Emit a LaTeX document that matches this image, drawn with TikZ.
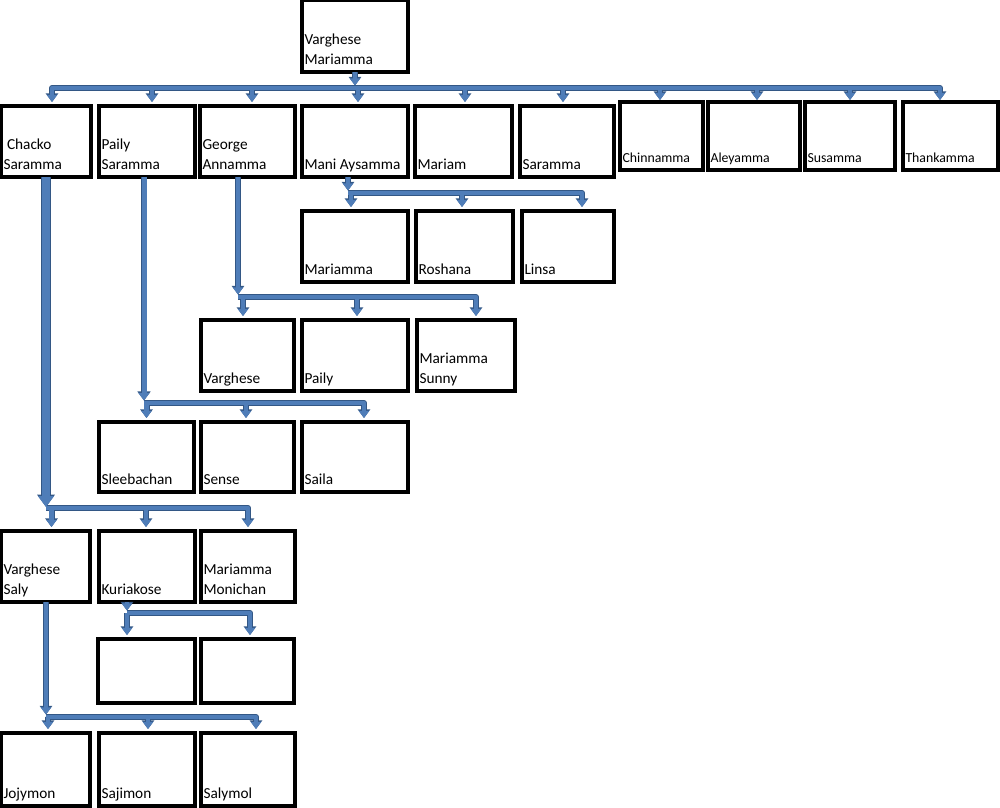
\documentclass[tikz,border=0pt]{standalone}
\usepackage{fontspec}
\setmainfont{Carlito}
\usetikzlibrary{arrows.meta}
\definecolor{LinkClr}{rgb}{0.31,0.49,0.72}
\definecolor{LinkDark}{rgb}{0.2,0.34,0.52}

\newcommand\familylinks{%
\draw[trunk] (root.south -| j0) -- (j0);
\draw[link] (j0) -| ([xshift=6pt]chacko.north);
\draw[link] (j0) -| ([xshift=5pt]paily.north);
\draw[link] (j0) -| ([xshift=4.5pt]george.north);
\draw[link] (j0) -| ([xshift=3pt]mani.north);
\draw[link] (j0) -| ([xshift=1.5pt]mariam.north);
\draw[link] (j0) -| ([xshift=-4pt]saramma.north);
\draw[link,shorten >=2pt] (j0) -| ([xshift=-1.5pt]chinnamma.north);
\draw[link,shorten >=2pt] (j0) -| ([xshift=3pt]aleyamma.north);
\draw[link,shorten >=2pt] (j0) -| (susamma.north);
\draw[link,shorten >=2pt] (j0) -| ([xshift=-10.5pt]thankamma.north);
\draw[trunk] (mani.south -| j1) -- (j1);
\draw[link] (j1) -| ([xshift=-4pt]mariamma.north);
\draw[link] (j1) -| ([xshift=-2.5pt]roshana.north);
\draw[link] (j1) -| ([xshift=14pt]linsa.north);
\draw[trunk] (george.south -| j2) -- (j2);
\draw[link] (j2) -| ([xshift=-4.5pt]varghese.north);
\draw[link] (j2) -| ([xshift=2pt]pailyjr.north);
\draw[link] (j2) -| ([xshift=10pt]sunny.north);
\draw[trunk=5pt] (paily.south -| j3) -- (j3);
\draw[link] (j3) -| (sleebachan.north);
\draw[link] (j3) -| ([xshift=-1.5pt]sense.north);
\draw[link] (j3) -| ([xshift=9pt]saila.north);
\draw[trunk=8.4pt,shorten >=1pt] (chacko.south -| j4) -- (j4);
\draw[link] (j4) -| ([xshift=6pt]saly.north);
\draw[link] (j4) -| ([xshift=-1pt]kuriakose.north);
\draw[link] (j4) -| (monichan.north);
\draw[trunk] (kuriakose.south -| j5) -- (j5);
\draw[link] (j5) -| ([xshift=-19.5pt]grandA.north);
\draw[link] (j5) -| ([xshift=2.5pt]grandB.north);
\draw[trunk] (saly.south -| j6) -- (j6);
\draw[link] (j6) -| ([xshift=2.5pt]jojymon.north);
\draw[link] (j6) -| ([xshift=1pt]sajimon.north);
\draw[link] (j6) -| ([xshift=8pt]salymol.north);
}

\begin{document}
\begin{tikzpicture}[x=1pt,y=-1pt,
  box/.style={draw,line width=3.2pt,outer sep=0pt,inner sep=0pt,minimum width=94pt,minimum height=71pt},
  lbl/.style={anchor=south west,align=left,inner xsep=2.5pt,inner ysep=2pt,outer sep=0pt,
    font=\fontsize{15.3}{20}\selectfont,execute at end node=\strut},
  smalltxt/.style={font=\fontsize{13.8}{18}\selectfont},
  link/.style={pass=4.4pt,line join=round,-{Triangle[width=4.5pt 1.25,length=2.9pt 0.94]},shorten >=4pt},
  trunk/.style={pass=#1,line join=round,-{Triangle[width=4.5pt 1.25,length=2.9pt 0.94]},shorten >=2.5pt},
  trunk/.default=4.4pt]
\useasboundingbox (0,0) rectangle (1000,807);

\node[box,minimum width=106pt,minimum height=72pt,label={[lbl]south west:Varghese\\Mariamma}] (root) at (355,36) {};

\node[box,minimum width=90pt,label={[lbl]south west:\hspace{3.5pt}Chacko\\Saramma}] (chacko) at (46,141.5) {};
\node[box,minimum width=96pt,label={[lbl]south west:Paily\\Saramma}] (paily) at (147,141.5) {};
\node[box,minimum width=95pt,label={[lbl]south west:George\\Annamma}] (george) at (247.5,141.5) {};
\node[box,minimum width=106pt,label={[lbl]south west:Mani Aysamma}] (mani) at (355,141.5) {};
\node[box,minimum width=97pt,label={[lbl]south west:Mariam}] (mariam) at (463.5,141.5) {};
\node[box,label={[lbl]south west:Saramma}] (saramma) at (567,141.5) {};
\node[box,minimum width=83pt,minimum height=68pt,label={[lbl,smalltxt]south west:Chinnamma}] (chinnamma) at (661.5,136) {};
\node[box,minimum width=92pt,minimum height=68pt,label={[lbl,smalltxt]south west:Aleyamma}] (aleyamma) at (754,136) {};
\node[box,minimum width=90pt,minimum height=68pt,label={[lbl,smalltxt]south west:Susamma}] (susamma) at (850,136) {};
\node[box,minimum width=95pt,minimum height=68pt,label={[lbl,smalltxt]south west:Thankamma}] (thankamma) at (950.5,136) {};

\node[box,minimum width=106pt,label={[lbl]south west:Mariamma}] (mariamma) at (355,246.5) {};
\node[box,minimum width=97pt,label={[lbl]south west:Roshana}] (roshana) at (464.5,246.5) {};
\node[box,minimum width=92pt,label={[lbl]south west:Linsa}] (linsa) at (568,246.5) {};

\node[box,minimum width=93pt,label={[lbl]south west:Varghese}] (varghese) at (247.5,355.5) {};
\node[box,minimum width=106pt,label={[lbl]south west:Paily}] (pailyjr) at (355,355.5) {};
\node[box,minimum width=98pt,label={[lbl]south west:Mariamma\\Sunny}] (sunny) at (466,355.5) {};

\node[box,minimum width=95pt,minimum height=70pt,label={[lbl]south west:Sleebachan}] (sleebachan) at (146.5,457) {};
\node[box,minimum width=93pt,minimum height=70pt,label={[lbl]south west:Sense}] (sense) at (247.5,457) {};
\node[box,minimum width=106pt,minimum height=70pt,label={[lbl]south west:Saila}] (saila) at (355,457) {};

\node[box,minimum width=89pt,label={[lbl]south west:Varghese\\Saly}] (saly) at (45.5,566.5) {};
\node[box,minimum width=96pt,label={[lbl]south west:Kuriakose}] (kuriakose) at (147,566.5) {};
\node[box,label={[lbl]south west:Mariamma\\Monichan}] (monichan) at (248,566.5) {};

\node[box,minimum width=97pt,minimum height=64pt] (grandA) at (146.5,671) {};
\node[box,minimum width=93pt,minimum height=64pt] (grandB) at (247.5,671) {};

\node[box,minimum width=89pt,minimum height=73pt,label={[lbl]south west:Jojymon}] (jojymon) at (45.5,769.5) {};
\node[box,minimum width=96pt,minimum height=73pt,label={[lbl]south west:Sajimon}] (sajimon) at (147,769.5) {};
\node[box,minimum height=73pt,label={[lbl]south west:Salymol}] (salymol) at (248,769.5) {};

\coordinate (j0) at (355,88);
\coordinate (j1) at (348,193);
\coordinate (j2) at (238,297);
\coordinate (j3) at (144,403);
\coordinate (j4) at (46,508);
\coordinate (j5) at (127,613);
\coordinate (j6) at (46,717);

% outline first, then the fill over it
\begin{scope}[pass/.style={LinkDark,line width=#1+1.6pt}]
\familylinks
\end{scope}
\begin{scope}[pass/.style={LinkClr,line width=#1}]
\familylinks
\end{scope}
\end{tikzpicture}
\end{document}
